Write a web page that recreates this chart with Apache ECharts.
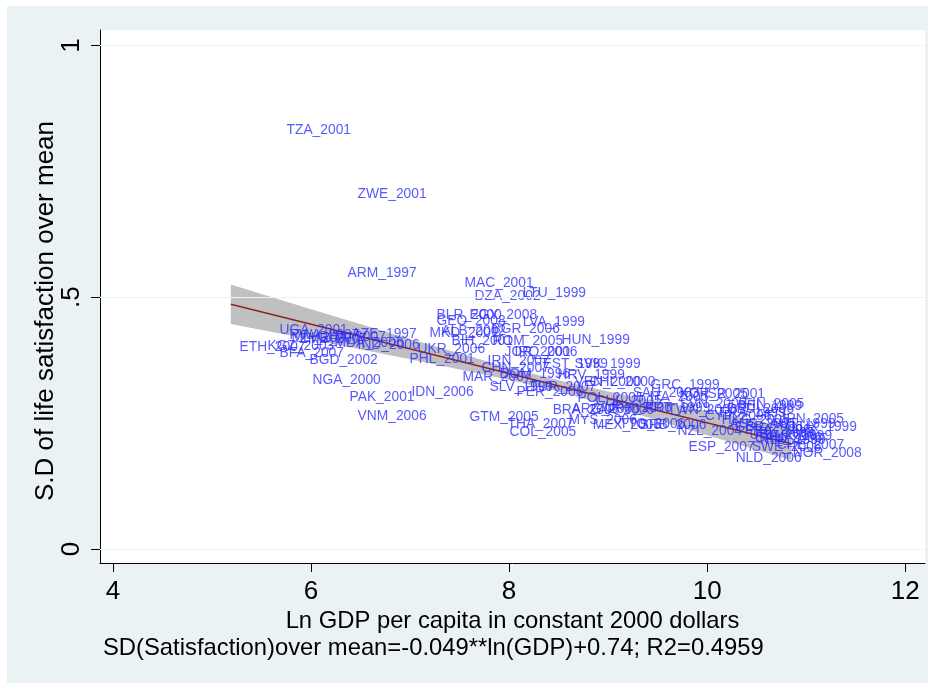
<!DOCTYPE html>
<html>
<head>
<meta charset="utf-8">
<script src="https://cdn.jsdelivr.net/npm/echarts@6/dist/echarts.min.js"></script>
<style>
html,body{margin:0;padding:0;background:#fff;}
#chart{width:934px;height:684px;}
</style>
</head>
<body>
<div id="chart"></div>
<script>
// ---- data ----
const names = ["TZA_2001","ZWE_2001","ARM_1997","MAC_2001","DZA_2002","LTU_1999","ETH_2007","UGA_2001","RWA_2007","MLI_2007",
"BFA_2007","KGZ_2003","ZMB_2007","GHA_2007","MDA_2006","AZE_1997","IND_2006","BGD_2002","NGA_2000","PAK_2001",
"VNM_2006","IDN_2006","UKR_2006","PHL_2001","MKD_2001","ALB_2002","BLR_2000","GEO_2008","EGY_2008","LVA_1999",
"BGR_2006","BIH_2001","ROM_2005","HUN_1999","JOR_2001","IRQ_2006","IRN_2007","EST_1999","SVK_1999","CHN_2007",
"MAR_2007","DOM_1996","HRV_1999","VEN_2000","CHL_2000","SLV_1999","PER_2006","TUR_2007","GRC_1999","SAU_2003",
"ITA_2005","KOR_2005","ISR_2001","BEL_1999","FIN_2005","DEU_2006","PRT_1999","TWN_2006","POL_2005","CHL_2005",
"BRA_2006","ARG_2006","ZAF_2006","URY_2006","MYS_2006","GTM_2005","THA_2007","COL_2005","MEX_2005","TTO_2006",
"SRB_2006","NZL_2004","HKG_2005","AUS_2005","LUX_1999","JPN_2005","FRA_1999","FRA_2006","GBR_2006","CAN_2006",
"SWE_2006","ESP_2007","CHE_2007","NLD_2006","NOR_2008","USA_2006","DNK_1999","IRL_1999","AUT_1999","NLD_1999",
"SVN_2005","CYP_2006"];
const lnGDP = [5.667,6.384,6.283,7.465,7.566,8.051,5.192,5.596,5.697,5.717,
5.596,5.475,5.798,5.980,6.152,6.323,6.384,5.899,5.929,6.303,
6.384,6.929,6.990,6.909,7.111,7.232,7.182,7.182,7.515,8.051,
7.737,7.333,7.747,8.444,7.869,7.970,7.697,8.253,8.576,7.636,
7.444,7.818,8.404,8.576,8.727,7.717,7.990,8.121,9.343,9.162,
9.333,9.636,9.879,10.222,10.283,10.111,9.283,9.515,8.606,8.788,
8.354,8.545,8.727,8.879,8.515,7.515,7.899,7.919,8.758,9.030,
9.232,9.616,10.061,10.141,10.768,10.646,10.040,10.293,10.192,10.394,
10.364,9.727,10.616,10.202,10.778,10.343,10.495,10.394,10.545,10.444,
9.636,9.889];
const sdMean = [0.832,0.705,0.548,0.528,0.502,0.508,0.401,0.435,0.425,0.419,
0.389,0.403,0.417,0.421,0.409,0.427,0.405,0.375,0.336,0.302,
0.264,0.312,0.397,0.377,0.429,0.433,0.465,0.453,0.465,0.451,
0.437,0.413,0.413,0.415,0.391,0.391,0.373,0.367,0.367,0.359,
0.342,0.347,0.346,0.332,0.332,0.322,0.312,0.322,0.326,0.310,
0.302,0.308,0.308,0.284,0.288,0.278,0.280,0.276,0.300,0.294,
0.276,0.278,0.276,0.280,0.256,0.262,0.248,0.232,0.246,0.248,
0.246,0.234,0.256,0.248,0.242,0.258,0.270,0.236,0.242,0.220,
0.203,0.203,0.207,0.181,0.191,0.226,0.224,0.230,0.248,0.216,
0.288,0.264];

// fitted line and 95% CI band
const fitX = [5.19, 10.85];
const fitY = [0.486, 0.209];
const bandX = [5.19, 6, 7, 8, 8.5, 9, 10, 10.85];
const bandLower = [0.447, 0.416, 0.377, 0.336, 0.313, 0.285, 0.226, 0.176];
const bandUpper = [0.525, 0.476, 0.417, 0.360, 0.335, 0.313, 0.274, 0.242];

// axis ticks
const xTicks = [4, 6, 8, 10, 12];
const yTicks = [0, 0.5, 1];
const yTickLabels = ["0", ".5", "1"];

const xTitle = "Ln GDP per capita in constant 2000 dollars";
const yTitle = "S.D of life satisfaction over mean";
const note = "SD(Satisfaction)over mean=-0.049**ln(GDP)+0.74; R2=0.4959";

// ---- chart ----
const FONT = "'Liberation Sans', Arial, sans-serif";
const chart = echarts.init(document.getElementById('chart'), null, {renderer: 'canvas'});

const option = {
  animation: false,
  backgroundColor: '#ffffff',
  graphic: [
    {type: 'rect', z: -100, shape: {x: 7, y: 6, width: 921, height: 677}, style: {fill: '#eaf2f3'}, silent: true},
    {type: 'text', left: 103, top: 636, style: {text: note, font: "23.8px " + FONT, fill: '#000'}, silent: true},
    {type: 'text', x: 46, y: 311, rotation: Math.PI / 2, silent: true,
      style: {text: yTitle, font: "26px " + FONT, fill: '#000', align: 'center', verticalAlign: 'middle'}}
  ],
  grid: {left: 100, right: 9, top: 30, bottom: 121, show: true, backgroundColor: '#ffffff', borderWidth: 0},
  xAxis: {
    type: 'value', min: 3.869, max: 12.2,
    name: xTitle, nameLocation: 'middle', nameGap: 32,
    nameTextStyle: {fontFamily: FONT, fontSize: 23.8, color: '#000'},
    axisLine: {show: true, onZero: false, lineStyle: {color: '#000', width: 1}},
    axisTick: {show: true, length: 9, customValues: xTicks, lineStyle: {color: '#000'}},
    axisLabel: {show: true, customValues: xTicks, margin: 16, fontFamily: FONT, fontSize: 26, color: '#000'},
    splitLine: {show: false}
  },
  yAxis: {
    type: 'value', min: -0.0278, max: 1.0306,
    axisLine: {show: true, onZero: false, lineStyle: {color: '#000', width: 1}},
    axisTick: {show: true, length: 9, customValues: yTicks, lineStyle: {color: '#000'}},
    axisLabel: {show: true, customValues: yTicks, rotate: 90, margin: 15, fontFamily: FONT, fontSize: 26, color: '#000',
      formatter: function (v) { const i = yTicks.indexOf(v); return i >= 0 ? yTickLabels[i] : String(v); }},
    splitLine: {show: false}
  },
  series: [
    {
      type: 'line', data: [], z: 1, silent: true,
      markLine: {
        silent: true, symbol: 'none', label: {show: false},
        lineStyle: {color: '#eaf2f3', type: 'solid', width: 1.2},
        data: yTicks.map(v => ({yAxis: v}))
      }
    },
    {
      type: 'custom', z: 2, silent: true,
      data: bandX.map((x, i) => [x, bandLower[i], bandUpper[i]]),
      renderItem: function (params, api) {
        if (params.dataIndex !== 0) return null;
        const pts = [];
        for (let i = 0; i < bandX.length; i++) pts.push(api.coord([bandX[i], bandUpper[i]]));
        for (let i = bandX.length - 1; i >= 0; i--) pts.push(api.coord([bandX[i], bandLower[i]]));
        return {type: 'polygon', shape: {points: pts}, style: {fill: '#c0c0c0', stroke: 'none'}};
      }
    },
    {
      type: 'line', z: 3, silent: true, symbol: 'none',
      data: fitX.map((x, i) => [x, fitY[i]]),
      lineStyle: {color: '#8e2525', width: 1.6}
    },
    {
      type: 'scatter', z: 4, silent: true,
      symbolSize: 1,
      itemStyle: {color: 'rgba(0,0,0,0)'},
      data: names.map((n, i) => ({name: n, value: [lnGDP[i], sdMean[i]]})),
      label: {show: true, position: 'right', distance: 8, formatter: '{b}',
        fontFamily: FONT, fontSize: 13.8, color: '#2e2eff'}
    }
  ]
};
chart.setOption(option);
</script>
</body>
</html>
